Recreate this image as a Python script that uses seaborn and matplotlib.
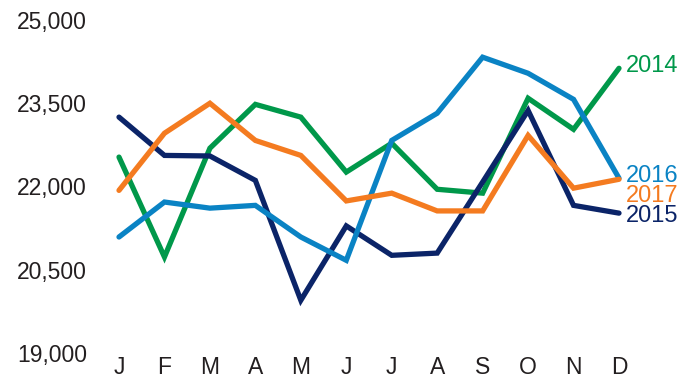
import matplotlib
matplotlib.use("Agg")
import matplotlib.pyplot as plt
import seaborn as sns
import pandas as pd

months = ["J", "F", "M", "A", "M", "J", "J", "A", "S", "O", "N", "D"]
years = ["2014", "2015", "2016", "2017"]
v2014 = [22530, 20730, 22690, 23480, 23250, 22260, 22780, 21950, 21880, 23590, 23030, 24130]
v2015 = [23250, 22560, 22550, 22110, 19950, 21290, 20760, 20800, 22080, 23370, 21660, 21520]
v2016 = [21090, 21720, 21610, 21660, 21090, 20670, 22830, 23320, 24330, 24040, 23570, 22150]
v2017 = [21930, 22960, 23500, 22830, 22560, 21740, 21880, 21560, 21560, 22920, 21970, 22130]
yticks = [19000, 20500, 22000, 23500, 25000]
colors = {"2014": "#00984a", "2015": "#0b2468", "2016": "#0a83c4", "2017": "#f47b20"}

series = {"2014": v2014, "2015": v2015, "2016": v2016, "2017": v2017}
rows = []
for y in years:
    for i, v in enumerate(series[y]):
        rows.append({"idx": i, "value": v, "year": y})
df = pd.DataFrame(rows)

sns.set_style("white")
plt.rcParams["font.family"] = ["Liberation Sans", "DejaVu Sans"]

fig = plt.figure(figsize=(6.94, 3.79), dpi=100)
ax = fig.add_axes([119 / 694, (379 - 353) / 379, 500 / 694, 333 / 379])
sns.lineplot(data=df, x="idx", y="value", hue="year", palette=colors,
             linewidth=3.8, ax=ax, legend=False, sort=False)
for line in ax.lines:
    line.set_clip_on(False)
    line.set_solid_capstyle("round")
    line.set_solid_joinstyle("miter")

ax.set_xlim(0, 11)
ax.set_ylim(19000, 25000)
ax.set_xticks(range(12))
ax.set_xticklabels(months)
ax.set_yticks(yticks)
ax.set_yticklabels([f"{t:,}" for t in yticks])
ax.tick_params(axis="both", length=0, labelsize=16.5, colors="#231f20")
ax.tick_params(axis="y", pad=23)
ax.tick_params(axis="x", pad=2.5)
ax.set_xlabel("")
ax.set_ylabel("")
sns.despine(ax=ax, left=True, bottom=True)
ax.patch.set_alpha(0)

label_y = {"2014": 63, "2016": 173, "2017": 193, "2015": 213}
for y in years:
    fig.text(626 / 694, 1 - label_y[y] / 379, y, color=colors[y], fontsize=17,
             ha="left", va="center_baseline")

fig.savefig("out.png", dpi=100)
